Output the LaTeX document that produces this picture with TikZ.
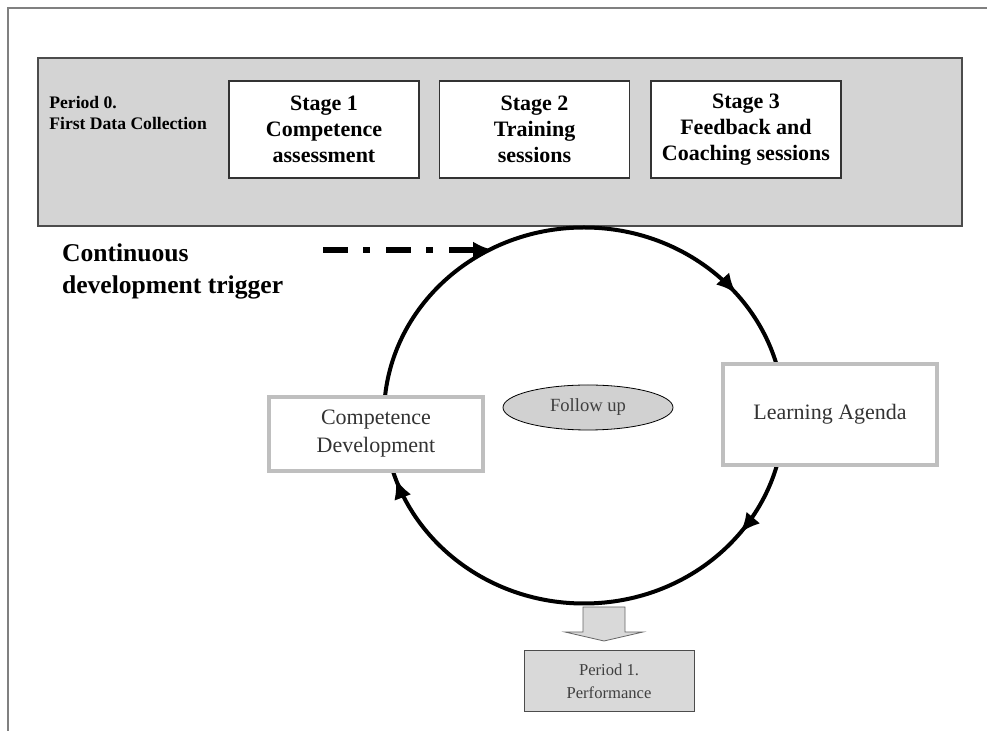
\documentclass[tikz,border=0pt]{standalone}
\usepackage{fontspec}
\setmainfont{Liberation Serif}
\usetikzlibrary{shapes.geometric,arrows.meta,decorations.markings}

\begin{document}
\begin{tikzpicture}[x=0.5pt,y=-0.5pt,
    stagebox/.style={draw=black!80,line width=0.9pt,fill=white,minimum width=95pt,minimum height=48.5pt,align=center,font=\fontsize{11}{13}\selectfont\bfseries},
    cyclebox/.style={draw=black!25,line width=2pt,fill=white,align=center,text=black!80,font=\fontsize{11}{14}\selectfont},
    cycleline/.style={line width=2pt},
    cyctip/.tip={Latex[length=10pt,width=9pt]}]
    \useasboundingbox (0,0) rectangle (987,731);
    % frame
    \draw [black!50,line width=0.8pt] (8,731) -- (8,8) -- (987,8);
    % period 0 band
    \draw [black!70,line width=1pt,fill=black!17] (38,58) rectangle (962,226);
    \node [anchor=west,align=left,inner sep=0pt,font=\fontsize{8.8}{10.5}\selectfont\bfseries] (period0) at (49,113) {Period 0.\\First Data Collection};
    \node [stagebox] (stage1) at (324,129.5) {Stage 1\\Competence\\assessment};
    \node [stagebox] (stage2) at (534.5,129.5) {Stage 2\\Training\\sessions};
    \node [stagebox] (stage3) at (746,129.5) {Stage 3\\Feedback and\\Coaching sessions};
    % cycle
    \coordinate (cyc) at (584,415.5);
    \draw [cycleline,postaction={decorate},decoration={markings,
        mark=at position 0.105 with {\arrow{cyctip}},
        mark=at position 0.447 with {\arrow{cyctip}},
        mark=at position 0.89 with {\arrow{cyctip}}}]
        (cyc) ellipse [x radius=200, y radius=188];
    % trigger
    \node [anchor=west,align=left,font=\fontsize{12.8}{16}\selectfont\bfseries] (trigger) at (55,271) {Continuous\\development trigger};
    \coordinate (trigstart) at (323,250);
    \coordinate (trigend) at (493,250);
    \draw [line width=2.6pt,dash pattern=on 12.5pt off 7.5pt on 3.5pt off 8pt,-{Latex[length=10pt,width=8.5pt]}] (trigstart) -- (trigend);
    % boxes on the cycle
    \node [cyclebox,minimum width=107pt,minimum height=37pt] (compdev) at (376,434) {Competence\\Development};
    \node [cyclebox,minimum width=107pt,minimum height=50.5pt] (agenda) at (830,414.5) {Learning Agenda};
    \node [ellipse,draw,fill=black!18,minimum width=85pt,minimum height=22.5pt,inner sep=0pt,text=black!75,font=\fontsize{9.3}{11}\selectfont] (followup) at (588,407.5) {Follow up};
    % period 1
    \node [draw=black!70,fill=black!15,minimum width=85pt,minimum height=30.5pt,align=center,text=black!75,font=\fontsize{8.3}{11.5}\selectfont] (period1) at (609,681) {Period 1.\\Performance};
    \draw [black!60,fill=black!15] (583,607) -- (625,607) -- (625,632) -- (643,632) -- (604,641) -- (565,632) -- (583,632) -- cycle;
\end{tikzpicture}
\end{document}
